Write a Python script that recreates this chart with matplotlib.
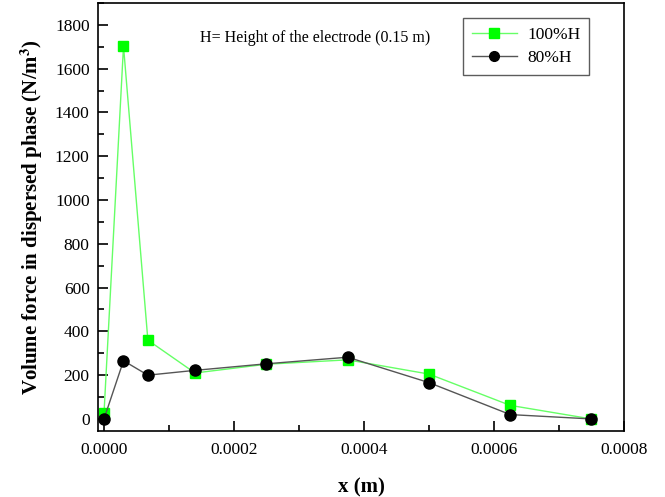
import matplotlib
matplotlib.use("Agg")
import matplotlib.pyplot as plt
from matplotlib.ticker import MultipleLocator, FormatStrFormatter

x_vals = [0.0, 0.00003, 0.0000675, 0.00014, 0.00025, 0.000375, 0.0005, 0.000625, 0.00075]
h100 = [26, 1703, 360, 210, 250, 270, 205, 62, 0]
h80 = [0, 266, 200, 222, 252, 282, 166, 20, 0]
labels = ["100%H", "80%H"]

plt.rcParams['font.family'] = ['Liberation Serif', 'DejaVu Serif']
plt.rcParams['mathtext.fontset'] = 'stix'

fig = plt.figure(figsize=(6.65, 4.97), dpi=100)
ax = fig.add_axes([0.1474, 0.1328, 0.7909, 0.8612])

ax.plot(x_vals, h100, color='#66ff66', lw=1.0, marker='s', ms=7.5,
        mfc='#00ff00', mec='#00ff00', label=labels[0], zorder=2)
ax.plot(x_vals, h80, color='#555555', lw=1.0, marker='o', ms=8,
        mfc='black', mec='black', label=labels[1], zorder=3)

ax.set_xlim(-0.0000092, 0.0008)
ax.set_ylim(-55, 1900)
ax.xaxis.set_major_locator(MultipleLocator(0.0002))
ax.xaxis.set_minor_locator(MultipleLocator(0.0001))
ax.yaxis.set_major_locator(MultipleLocator(200))
ax.yaxis.set_minor_locator(MultipleLocator(100))
ax.xaxis.set_major_formatter(FormatStrFormatter('%.4f'))
ax.tick_params(which='both', direction='in', top=False, right=False, labelsize=12.5, width=1.2)
ax.tick_params(which='major', length=7)
ax.tick_params(which='minor', length=4)
ax.tick_params(axis='y', which='major', pad=6)
ax.tick_params(axis='x', which='major', pad=8)
for s in ax.spines.values():
    s.set_linewidth(1.2)

ax.set_xlabel('x (m)', fontsize=15, fontweight='bold', labelpad=14)
ax.set_ylabel(r'Volume force in dispersed phase (N/m$^\mathbf{3}$)', fontsize=15, fontweight='bold', labelpad=7)

ax.text(200, 497 - 38, 'H= Height of the electrode (0.15 m)', transform=None,
        fontsize=11.5, va='center', ha='left')

leg = ax.legend(loc='upper right', bbox_to_anchor=(0.95, 0.985), fontsize=12.5, frameon=True,
                fancybox=False, edgecolor='#333333', handlelength=2.6, borderpad=0.5,
                labelspacing=0.4, handletextpad=0.6)
leg.get_frame().set_linewidth(1.0)
for h in leg.legend_handles:
    h.set_markersize(7)

fig.savefig('out.png', dpi=100)
